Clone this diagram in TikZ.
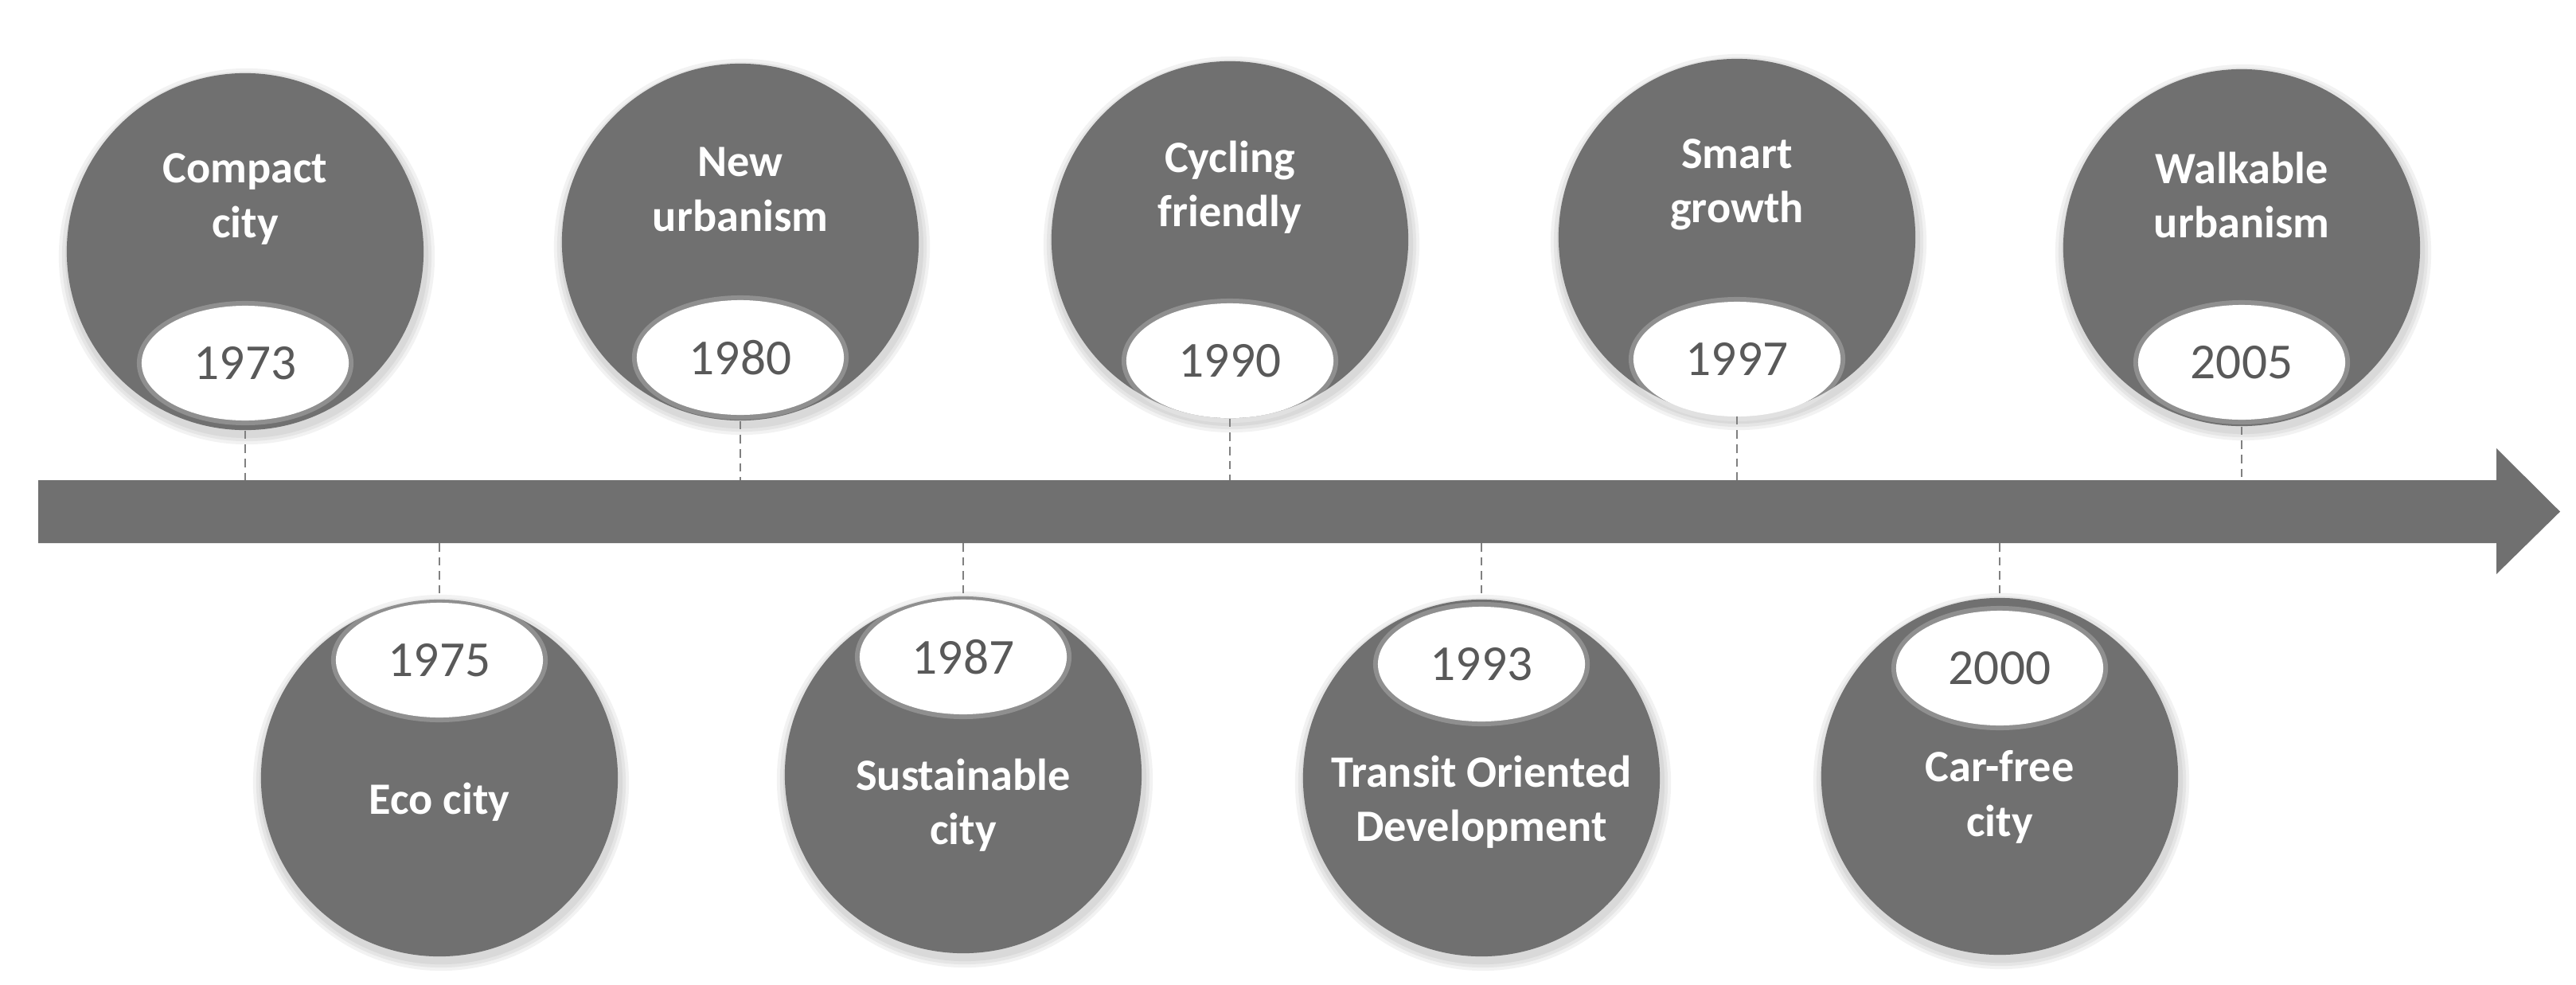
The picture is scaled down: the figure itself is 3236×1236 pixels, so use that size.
\documentclass[tikz,border=0pt]{standalone}
\usepackage{fontspec}
\setmainfont{Carlito}
\usetikzlibrary{shapes.geometric}
\definecolor{bubblegray}{HTML}{707070}
\definecolor{yeargray}{HTML}{595959}
\tikzset{
  bubble/.style={circle, fill=bubblegray, minimum size=4.48cm, inner sep=0pt},
  softshade/.style={circle, fill=black, opacity=0.05, minimum size=#1, inner sep=0pt},
  yearglow/.style={ellipse, fill=white, opacity=0.22, minimum width=2.72cm, minimum height=1.56cm, inner sep=0pt},
  yearbox/.style={ellipse, fill=white, minimum width=2.6cm, minimum height=1.44cm, inner sep=0pt, text=yeargray, font=\fontsize{18}{21}\selectfont},
  lbltext/.style={text=white, font=\bfseries\fontsize{16}{19.5}\selectfont, align=center, inner sep=0pt},
  tick/.style={draw=gray, line width=0.8pt, dash pattern=on 3pt off 2pt}
}
\newcommand{\bubbleshade}[2]{%
  \foreach \s in {4.72cm,4.64cm,4.56cm}{\node[softshade=\s] at (#1+2,#2+6) {};}%
}
\newcommand{\topitem}[7]{% id, cx, cy, year y, year, text, text offset
  \bubbleshade{#2}{#3}
  \node[bubble] (c#1) at (#2,#3) {};
  \node[yearglow] at (#2,#4) {};
  \node[yearbox] (y#1) at (#2,#4) {#5};
  \node[lbltext] (t#1) at (#2,#3+#7) {#6};
  \coordinate (a#1) at (#2,603);
  \draw[tick] (c#1.south) -- (a#1);
}
\newcommand{\bottomitem}[7]{% id, cx, cy, year y, year, text, text offset
  \bubbleshade{#2}{#3}
  \node[bubble] (c#1) at (#2,#3) {};
  \node[yearglow] at (#2,#4) {};
  \node[yearbox] (y#1) at (#2,#4) {#5};
  \node[lbltext] (t#1) at (#2,#3+#7) {#6};
  \coordinate (a#1) at (#2,682);
  \draw[tick] (a#1) -- (c#1.north);
}
\begin{document}
\begin{tikzpicture}[x=0.01cm,y=-0.01cm]
\useasboundingbox (0,0) rectangle (3236,1236);
\fill[white] (0,0) rectangle (3236,1236);
% timeline arrow
\fill[bubblegray] (48,603) -- (3136,603) -- (3136,563) -- (3216,642.5)
  -- (3136,721) -- (3136,682) -- (48,682) -- cycle;
% top items
\topitem{1}{308}{316}{456}{1973}{Compact\\city}{-66}
\topitem{2}{930}{304}{449}{1980}{New\\urbanism}{-66}
\topitem{3}{1545}{301}{453}{1990}{Cycling\\friendly}{-66}
\topitem{4}{2182}{298}{451}{1997}{Smart\\growth}{-66}
\topitem{5}{2816}{311}{455}{2005}{Walkable\\urbanism}{-66}
% bottom items
\bottomitem{6}{552}{977}{829}{1975}{Eco city}{30}
\bottomitem{7}{1210}{973}{825}{1987}{Sustainable\\city}{38}
\bottomitem{8}{1861}{977}{834}{1993}{Transit Oriented\\Development}{30}
\bottomitem{9}{2512}{975}{839}{2000}{Car-free\\city}{26}
\end{tikzpicture}
\end{document}
